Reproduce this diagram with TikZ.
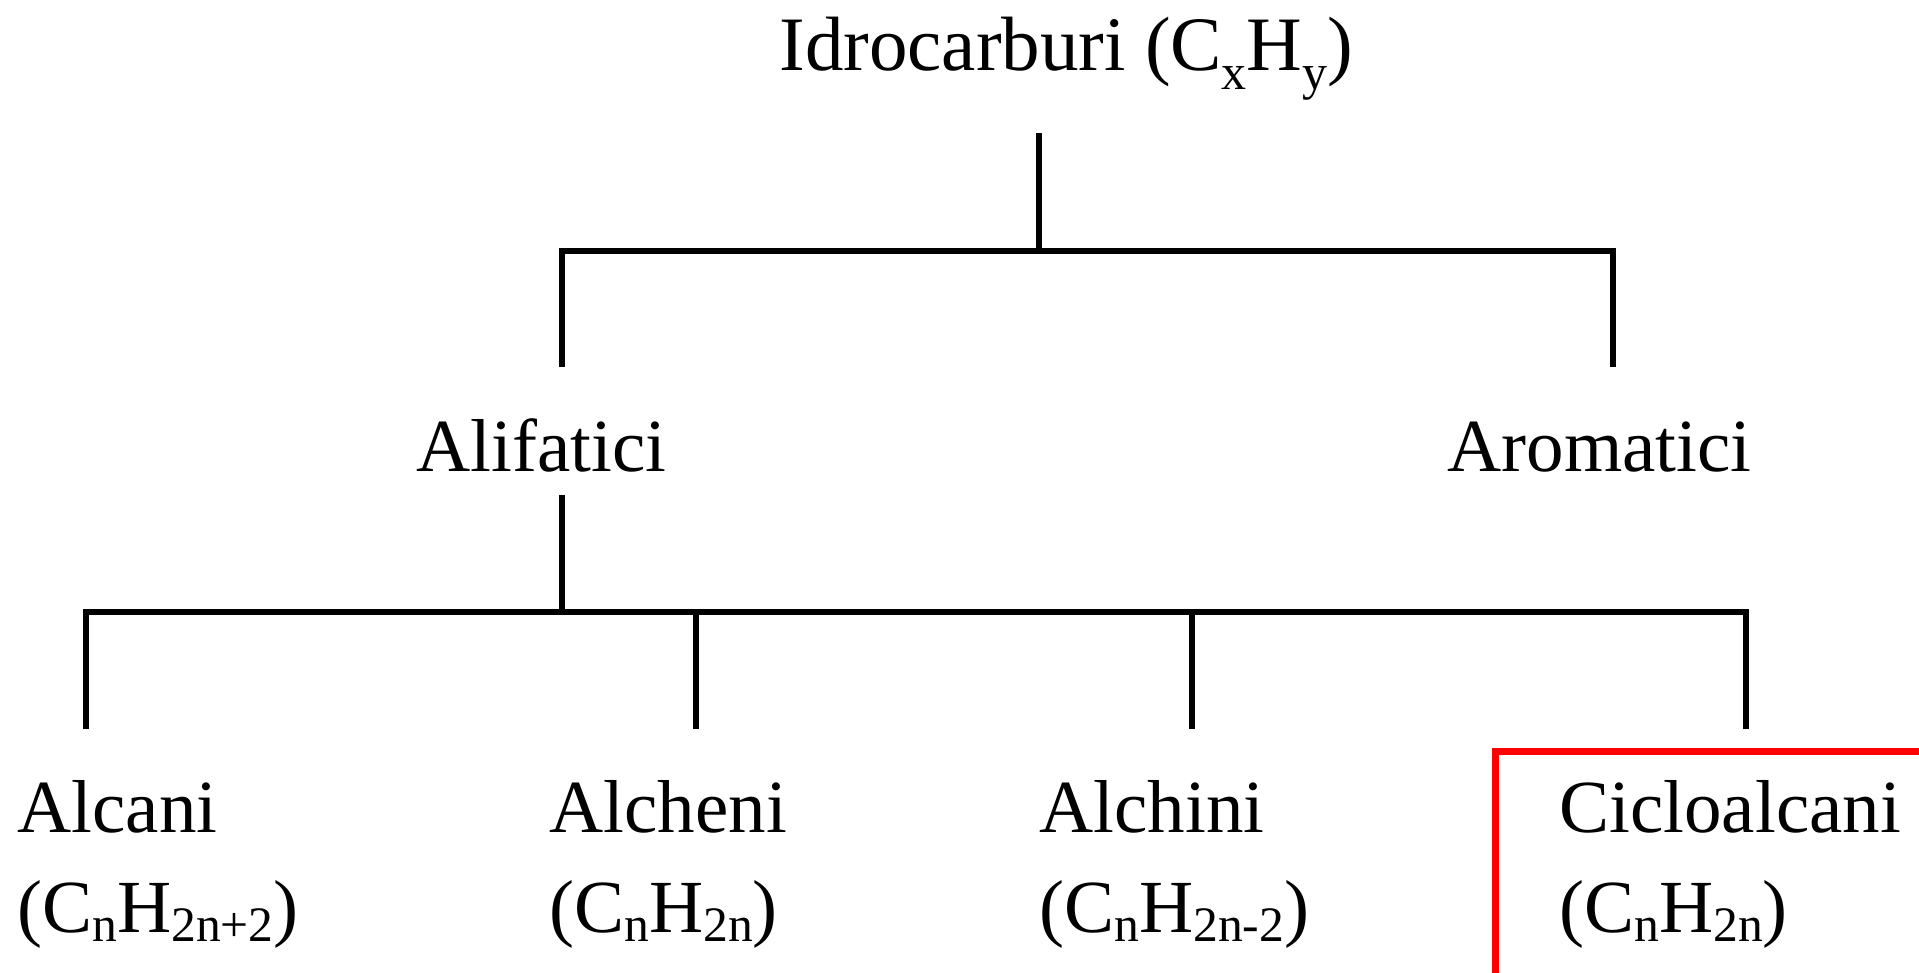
\documentclass[tikz,border=0pt]{standalone}
\usepackage{fontspec}
\setmainfont{Liberation Serif}
\newcommand{\lsub}[1]{\raisebox{-0.12em}{\fontsize{24.8pt}{25pt}\selectfont #1}}
\newcommand{\tsub}[1]{\raisebox{-0.24em}{\fontsize{25pt}{25pt}\selectfont #1}}
\tikzset{
  lbl/.style={anchor=base west, inner sep=0pt, font=\fontsize{37.5pt}{44pt}\selectfont},
  tree/.style={line width=2.6pt, line cap=rect},
  hlbox/.style={draw=red, line width=3.5pt, anchor=north west, inner sep=0pt, minimum width=240pt, minimum height=130pt}
}
\begin{document}
\begin{tikzpicture}[x=0.5pt,y=-0.5pt]
\useasboundingbox (0,0) rectangle (1919,973);
\fill[white] (0,0) rectangle (1919,973);
% texts
\node[lbl, font=\fontsize{38.5pt}{44pt}\selectfont] (root) at (779,71) {Idrocarburi (C\tsub{x}H\tsub{y})};
\node[lbl] (ali) at (416,472) {Alifatici};
\node[lbl] (aro) at (1447,472) {Aromatici};
\node[lbl] (alc) at (17,832) {Alcani};
\node[lbl] (alcf) at (17,932) {(C\lsub{n}H\lsub{2n+2})};
\node[lbl] (alh) at (549,832) {Alcheni};
\node[lbl] (alhf) at (549,932) {(C\lsub{n}H\lsub{2n})};
\node[lbl] (ali2) at (1039,832) {Alchini};
\node[lbl] (ali2f) at (1039,932) {(C\lsub{n}H\lsub{2n-2})};
\node[lbl] (cic) at (1559,832) {Cicloalcani};
\node[lbl] (cicf) at (1559,932) {(C\lsub{n}H\lsub{2n})};
% red highlight
\node[hlbox] (hl) at (1492,748) {};
% tree coordinates
\coordinate (r0) at (1039,136);
\coordinate (r1) at (1039,251);
\coordinate (bl) at (562,251);
\coordinate (br) at (1613,251);
\coordinate (blb) at (562,364);
\coordinate (brb) at (1613,364);
\coordinate (a0) at (562,498);
\coordinate (a1) at (562,612);
\coordinate (h1) at (86,612);
\coordinate (h2) at (696,612);
\coordinate (h3) at (1192,612);
\coordinate (h4) at (1746,612);
\coordinate (d1) at (86,726);
\coordinate (d2) at (696,726);
\coordinate (d3) at (1192,726);
\coordinate (d4) at (1746,726);
\draw[tree] (r0) -- (r1);
\draw[tree] (blb) -- (bl) -- (br) -- (brb);
\draw[tree] (a0) -- (a1);
\draw[tree] (d1) -- (h1) -- (h4) -- (d4);
\draw[tree] (h2) -- (d2);
\draw[tree] (h3) -- (d3);
\end{tikzpicture}
\end{document}
